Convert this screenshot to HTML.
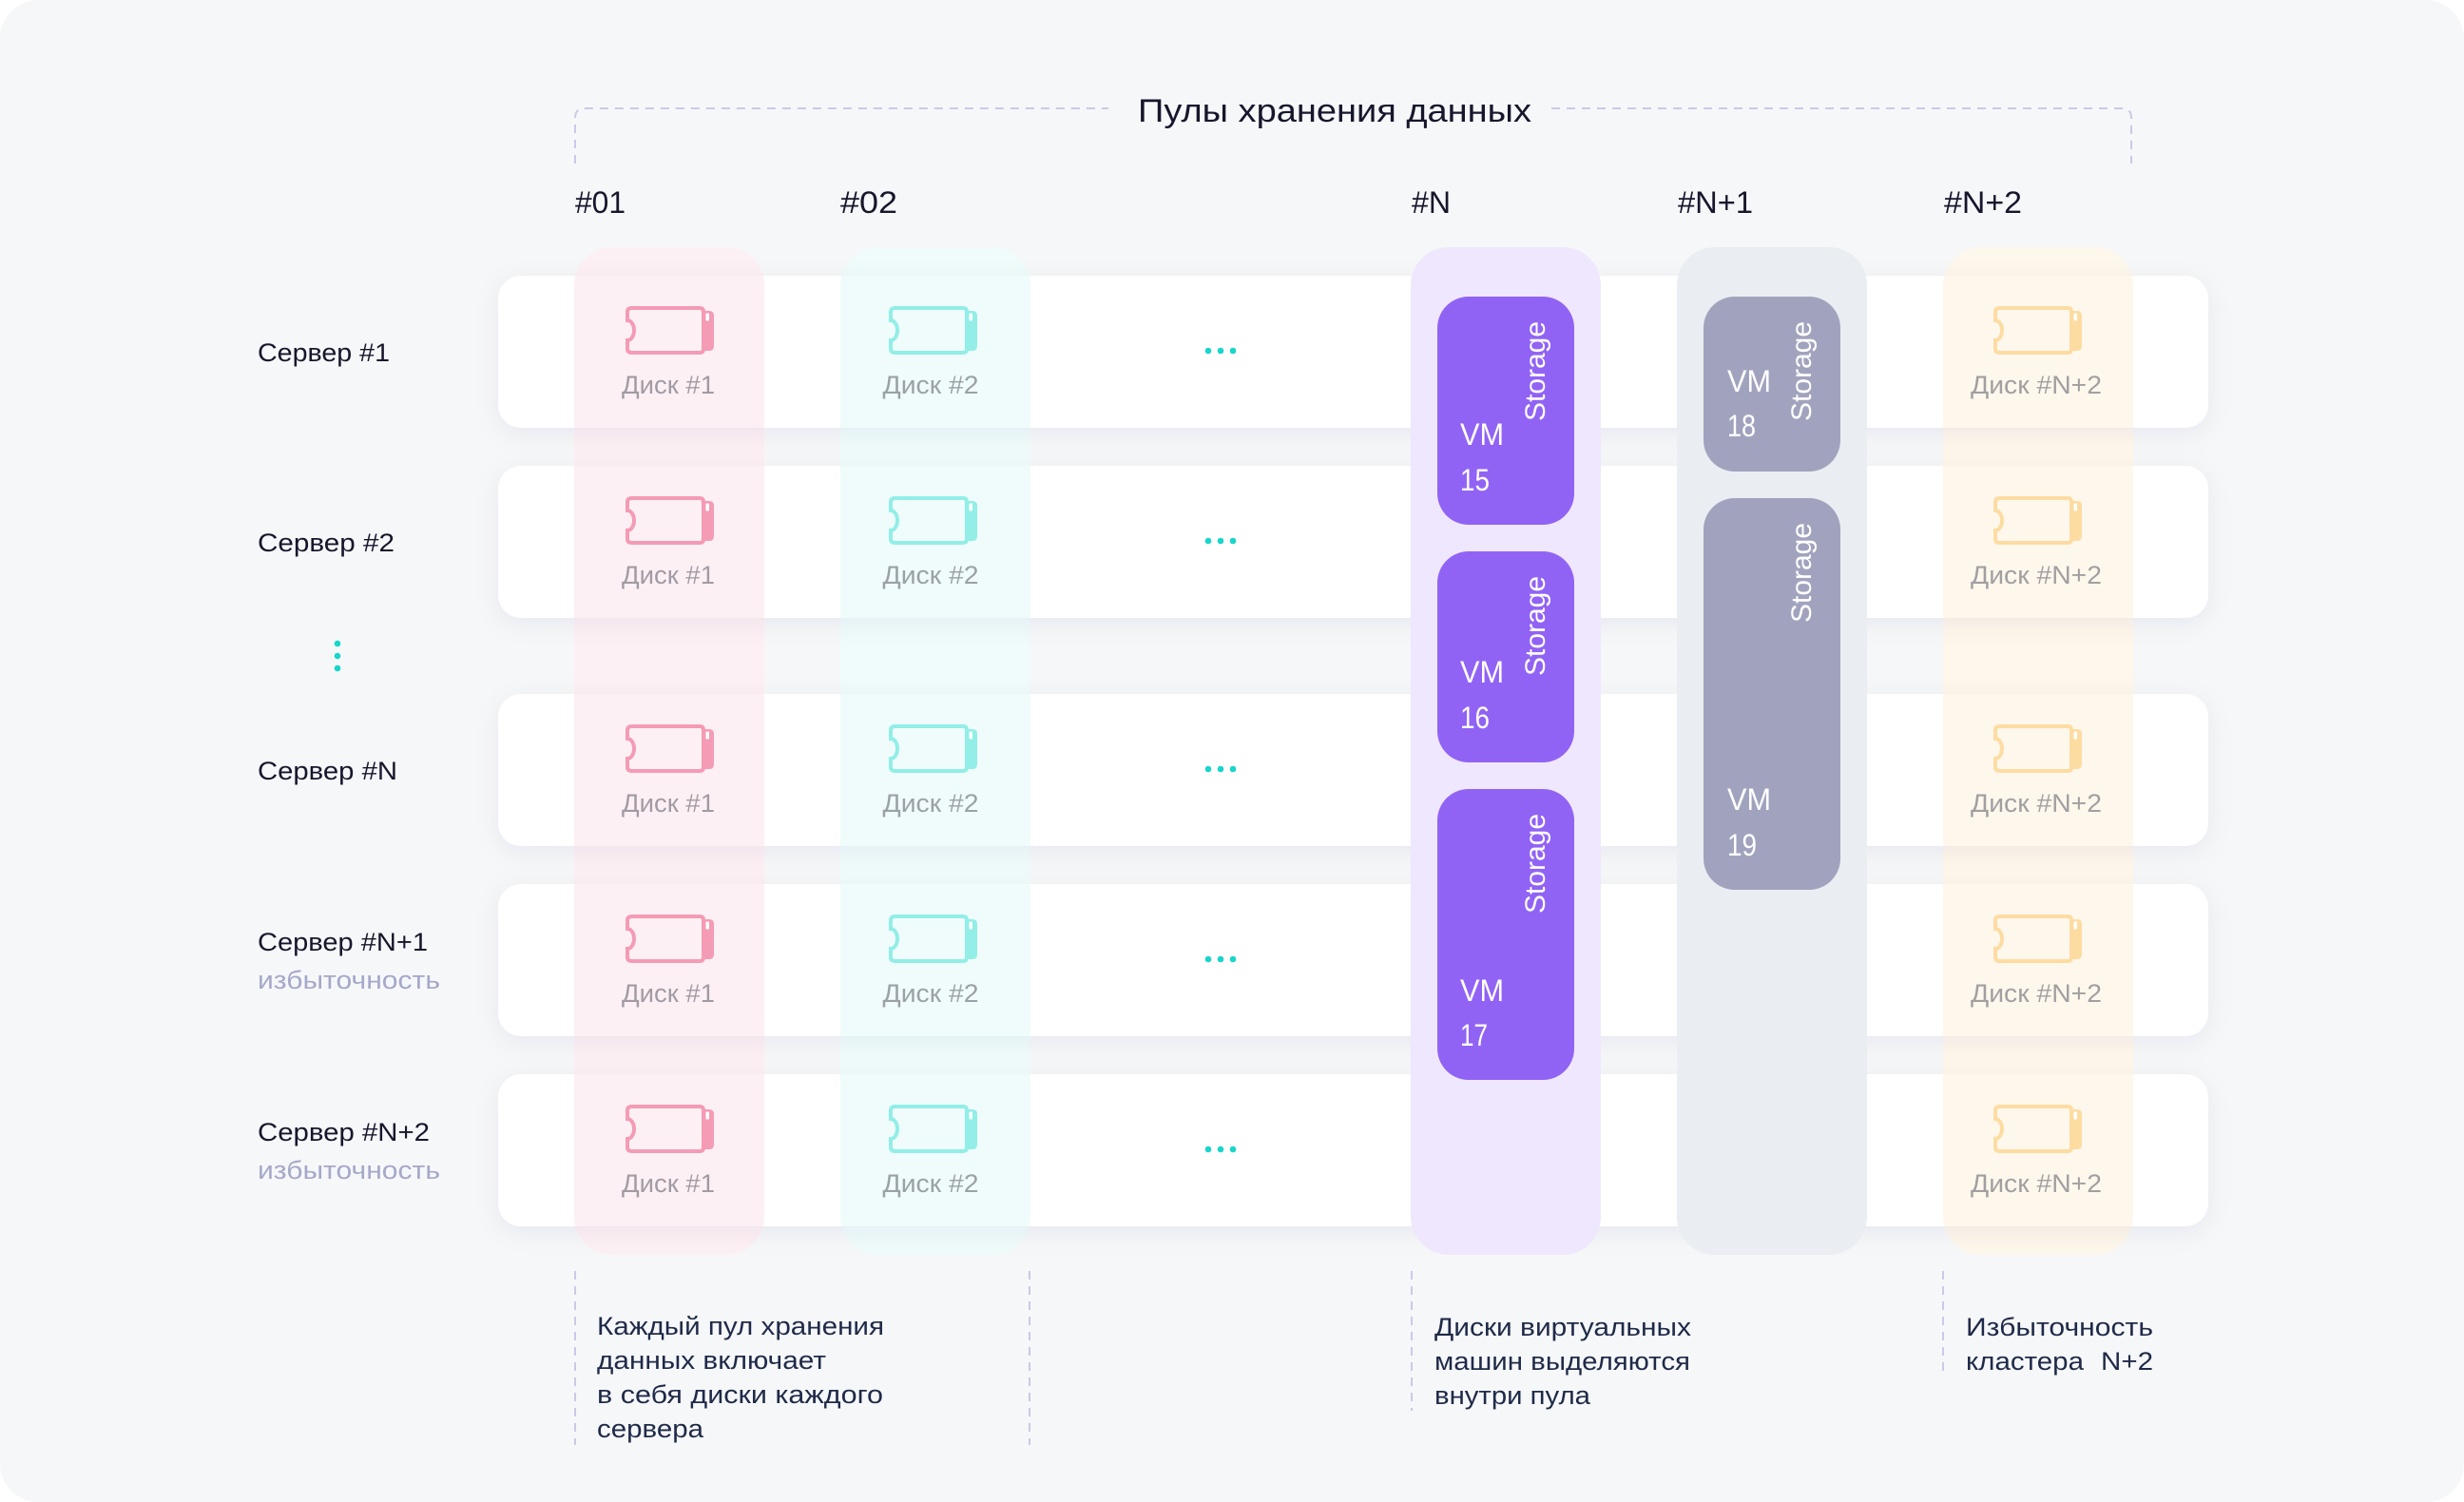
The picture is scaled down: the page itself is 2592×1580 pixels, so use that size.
<!DOCTYPE html>
<html lang="ru">
<head>
<meta charset="utf-8">
<title>Пулы хранения данных</title>
<style>
  html, body { margin: 0; padding: 0; background: #ffffff; }
  body { width: 2592px; height: 1580px; overflow: hidden; }
  svg { display: block; }
  text { font-family: "Liberation Sans", "Noto Sans CJK SC", "DejaVu Sans", sans-serif; }
</style>
</head>
<body>
<svg xmlns="http://www.w3.org/2000/svg" xmlns:xlink="http://www.w3.org/1999/xlink" width="2592" height="1580" viewBox="0 0 2592 1580">
  <defs>
    <filter id="so" x="-5%" y="-40%" width="110%" height="190%">
      <feGaussianBlur in="SourceAlpha" stdDeviation="13" result="b"/>
      <feOffset in="b" dy="6" result="o"/>
      <feFlood flood-color="#1e2850" flood-opacity="0.06"/>
      <feComposite in2="o" operator="in" result="s"/>
      <feComposite in="s" in2="SourceAlpha" operator="out"/>
    </filter>
    <g id="disk">
      <path d="M7 2 H78 Q82 2 82 6 V45 Q82 49 78 49 H7 Q2 49 2 45 V36 A7 10.5 0 0 0 2 15 V6 Q2 2 7 2 Z" fill="none" stroke="currentColor" stroke-width="4"/>
      <path d="M80 5 H88 Q93 5 93 10 V42 Q93 47 88 47 H80 Z" fill="currentColor"/>
      <rect x="84.5" y="7.5" width="3.5" height="8" rx="1" fill="#ffffff"/>
    </g>
    <g id="rows">
      <rect x="524" y="290" width="1799" height="160" rx="24"/>
      <rect x="524" y="490" width="1799" height="160" rx="24"/>
      <rect x="524" y="730" width="1799" height="160" rx="24"/>
      <rect x="524" y="930" width="1799" height="160" rx="24"/>
      <rect x="524" y="1130" width="1799" height="160" rx="24"/>
    </g>
  </defs>

  <!-- background -->
  <rect width="2592" height="1580" fill="#ffffff"/>
  <rect width="2592" height="1580" rx="40" fill="#f6f7f9"/>

  <!-- title bracket -->
  <path d="M605 172 V124 Q605 114 615 114 H1166" fill="none" stroke="#c9cae6" stroke-width="2" stroke-dasharray="9 7"/>
  <path d="M1632 114 H2232 Q2242 114 2242 124 V172" fill="none" stroke="#c9cae6" stroke-width="2" stroke-dasharray="9 7"/>
  <text x="1197" y="128" font-size="34" fill="#16162c" textLength="414" lengthAdjust="spacingAndGlyphs">Пулы хранения данных</text>

  <!-- column headers -->
  <text x="605" y="224" font-size="32" fill="#16162c" textLength="53" lengthAdjust="spacingAndGlyphs">#01</text>
  <text x="884" y="224" font-size="32" fill="#16162c" textLength="60" lengthAdjust="spacingAndGlyphs">#02</text>
  <text x="1485" y="224" font-size="32" fill="#16162c" textLength="41" lengthAdjust="spacingAndGlyphs">#N</text>
  <text x="1765" y="224" font-size="32" fill="#16162c" textLength="79" lengthAdjust="spacingAndGlyphs">#N+1</text>
  <text x="2045" y="224" font-size="32" fill="#16162c" textLength="82" lengthAdjust="spacingAndGlyphs">#N+2</text>

  <!-- server rows (white) -->
  <use xlink:href="#rows" href="#rows" fill="#ffffff"/>

  <!-- pool columns (light) -->
  <rect x="604" y="260" width="200" height="1060" rx="40" fill="#fdf0f4"/>
  <rect x="884" y="260" width="200" height="1060" rx="40" fill="#effcfb"/>
  <rect x="2044" y="260" width="200" height="1060" rx="40" fill="#fef7ec"/>

  <!-- row shadow only (over light columns) -->
  <use xlink:href="#rows" href="#rows" fill="#ffffff" filter="url(#so)"/>

  <!-- pool columns (opaque) -->
  <rect x="1484" y="260" width="200" height="1060" rx="40" fill="#efe7fd"/>
  <rect x="1764" y="260" width="200" height="1060" rx="40" fill="#eaedf2"/>

  <!-- server labels -->
  <g font-size="27" fill="#16162c">
    <text x="271" y="380" textLength="139" lengthAdjust="spacingAndGlyphs">Сервер #1</text>
    <text x="271" y="580" textLength="144" lengthAdjust="spacingAndGlyphs">Сервер #2</text>
    <text x="271" y="820" textLength="147" lengthAdjust="spacingAndGlyphs">Сервер #N</text>
    <text x="271" y="1000" textLength="179" lengthAdjust="spacingAndGlyphs">Сервер #N+1</text>
    <text x="271" y="1200" textLength="181" lengthAdjust="spacingAndGlyphs">Сервер #N+2</text>
  </g>
  <g font-size="27" fill="#a5a8c8">
    <text x="271" y="1040" textLength="192" lengthAdjust="spacingAndGlyphs">избыточность</text>
    <text x="271" y="1240" textLength="192" lengthAdjust="spacingAndGlyphs">избыточность</text>
  </g>

  <!-- vertical dots -->
  <g fill="#19d5ca">
    <circle cx="355" cy="677" r="3.3"/>
    <circle cx="355" cy="690" r="3.3"/>
    <circle cx="355" cy="703" r="3.3"/>
  </g>

  <!-- disk icons -->
  <g style="color:#f49bb5">
    <use xlink:href="#disk" href="#disk" x="658" y="322"/>
    <use xlink:href="#disk" href="#disk" x="658" y="522"/>
    <use xlink:href="#disk" href="#disk" x="658" y="762"/>
    <use xlink:href="#disk" href="#disk" x="658" y="962"/>
    <use xlink:href="#disk" href="#disk" x="658" y="1162"/>
  </g>
  <g style="color:#92eee7">
    <use xlink:href="#disk" href="#disk" x="935" y="322"/>
    <use xlink:href="#disk" href="#disk" x="935" y="522"/>
    <use xlink:href="#disk" href="#disk" x="935" y="762"/>
    <use xlink:href="#disk" href="#disk" x="935" y="962"/>
    <use xlink:href="#disk" href="#disk" x="935" y="1162"/>
  </g>
  <g style="color:#fddca2">
    <use xlink:href="#disk" href="#disk" x="2097" y="322"/>
    <use xlink:href="#disk" href="#disk" x="2097" y="522"/>
    <use xlink:href="#disk" href="#disk" x="2097" y="762"/>
    <use xlink:href="#disk" href="#disk" x="2097" y="962"/>
    <use xlink:href="#disk" href="#disk" x="2097" y="1162"/>
  </g>

  <!-- disk labels -->
  <g font-size="27" fill="#5a5a66" fill-opacity="0.56" text-anchor="middle">
    <text x="703" y="414" textLength="98" lengthAdjust="spacingAndGlyphs">Диск #1</text>
    <text x="703" y="614" textLength="98" lengthAdjust="spacingAndGlyphs">Диск #1</text>
    <text x="703" y="854" textLength="98" lengthAdjust="spacingAndGlyphs">Диск #1</text>
    <text x="703" y="1054" textLength="98" lengthAdjust="spacingAndGlyphs">Диск #1</text>
    <text x="703" y="1254" textLength="98" lengthAdjust="spacingAndGlyphs">Диск #1</text>

    <text x="979" y="414" textLength="101" lengthAdjust="spacingAndGlyphs">Диск #2</text>
    <text x="979" y="614" textLength="101" lengthAdjust="spacingAndGlyphs">Диск #2</text>
    <text x="979" y="854" textLength="101" lengthAdjust="spacingAndGlyphs">Диск #2</text>
    <text x="979" y="1054" textLength="101" lengthAdjust="spacingAndGlyphs">Диск #2</text>
    <text x="979" y="1254" textLength="101" lengthAdjust="spacingAndGlyphs">Диск #2</text>

    <text x="2142" y="414" textLength="138" lengthAdjust="spacingAndGlyphs">Диск #N+2</text>
    <text x="2142" y="614" textLength="138" lengthAdjust="spacingAndGlyphs">Диск #N+2</text>
    <text x="2142" y="854" textLength="138" lengthAdjust="spacingAndGlyphs">Диск #N+2</text>
    <text x="2142" y="1054" textLength="138" lengthAdjust="spacingAndGlyphs">Диск #N+2</text>
    <text x="2142" y="1254" textLength="138" lengthAdjust="spacingAndGlyphs">Диск #N+2</text>
  </g>

  <!-- horizontal ellipsis dots -->
  <g fill="#19d5ca">
    <circle cx="1271" cy="369" r="3.3"/><circle cx="1284" cy="369" r="3.3"/><circle cx="1297" cy="369" r="3.3"/>
    <circle cx="1271" cy="569" r="3.3"/><circle cx="1284" cy="569" r="3.3"/><circle cx="1297" cy="569" r="3.3"/>
    <circle cx="1271" cy="809" r="3.3"/><circle cx="1284" cy="809" r="3.3"/><circle cx="1297" cy="809" r="3.3"/>
    <circle cx="1271" cy="1009" r="3.3"/><circle cx="1284" cy="1009" r="3.3"/><circle cx="1297" cy="1009" r="3.3"/>
    <circle cx="1271" cy="1209" r="3.3"/><circle cx="1284" cy="1209" r="3.3"/><circle cx="1297" cy="1209" r="3.3"/>
  </g>

  <!-- VM boxes (purple) -->
  <rect x="1512" y="312" width="144" height="240" rx="33" fill="#9163f4"/>
  <rect x="1512" y="580" width="144" height="222" rx="33" fill="#9163f4"/>
  <rect x="1512" y="830" width="144" height="306" rx="33" fill="#9163f4"/>
  <!-- VM boxes (gray) -->
  <rect x="1792" y="312" width="144" height="184" rx="33" fill="#a1a3be"/>
  <rect x="1792" y="524" width="144" height="412" rx="33" fill="#a1a3be"/>

  <g font-size="32" fill="#ffffff">
    <text x="1536" y="468" textLength="46" lengthAdjust="spacingAndGlyphs">VM</text>
    <text x="1536" y="516" textLength="31" lengthAdjust="spacingAndGlyphs">15</text>
    <text x="1536" y="718" textLength="46" lengthAdjust="spacingAndGlyphs">VM</text>
    <text x="1536" y="766" textLength="31" lengthAdjust="spacingAndGlyphs">16</text>
    <text x="1536" y="1053" textLength="46" lengthAdjust="spacingAndGlyphs">VM</text>
    <text x="1536" y="1100" textLength="29" lengthAdjust="spacingAndGlyphs">17</text>
    <text x="1817" y="412" textLength="46" lengthAdjust="spacingAndGlyphs">VM</text>
    <text x="1817" y="459" textLength="30" lengthAdjust="spacingAndGlyphs">18</text>
    <text x="1817" y="852" textLength="46" lengthAdjust="spacingAndGlyphs">VM</text>
    <text x="1817" y="900" textLength="31" lengthAdjust="spacingAndGlyphs">19</text>
  </g>
  <g font-size="30" fill="#ffffff">
    <text transform="translate(1625 443) rotate(-90)" textLength="105" lengthAdjust="spacingAndGlyphs">Storage</text>
    <text transform="translate(1625 711) rotate(-90)" textLength="105" lengthAdjust="spacingAndGlyphs">Storage</text>
    <text transform="translate(1625 961) rotate(-90)" textLength="105" lengthAdjust="spacingAndGlyphs">Storage</text>
    <text transform="translate(1905 443) rotate(-90)" textLength="105" lengthAdjust="spacingAndGlyphs">Storage</text>
    <text transform="translate(1905 655) rotate(-90)" textLength="105" lengthAdjust="spacingAndGlyphs">Storage</text>
  </g>

  <!-- bottom notes -->
  <g fill="none" stroke="#c9cae6" stroke-width="2" stroke-dasharray="9 7">
    <line x1="605" y1="1337" x2="605" y2="1520"/>
    <line x1="1083" y1="1337" x2="1083" y2="1520"/>
    <line x1="1485" y1="1337" x2="1485" y2="1484"/>
    <line x1="2044" y1="1337" x2="2044" y2="1446"/>
  </g>
  <g font-size="27" fill="#1f2a48">
    <text x="628" y="1404" textLength="302" lengthAdjust="spacingAndGlyphs">Каждый пул хранения</text>
    <text x="628" y="1440" textLength="241" lengthAdjust="spacingAndGlyphs">данных включает</text>
    <text x="628" y="1476" textLength="301" lengthAdjust="spacingAndGlyphs">в себя диски каждого</text>
    <text x="628" y="1512" textLength="112" lengthAdjust="spacingAndGlyphs">сервера</text>

    <text x="1509" y="1405" textLength="270" lengthAdjust="spacingAndGlyphs">Диски виртуальных</text>
    <text x="1509" y="1441" textLength="269" lengthAdjust="spacingAndGlyphs">машин выделяются</text>
    <text x="1509" y="1477" textLength="164" lengthAdjust="spacingAndGlyphs">внутри пула</text>

    <text x="2068" y="1405" textLength="197" lengthAdjust="spacingAndGlyphs">Избыточность</text>
    <text x="2068" y="1441" textLength="124" lengthAdjust="spacingAndGlyphs">кластера</text>
    <text x="2210" y="1441" textLength="55" lengthAdjust="spacingAndGlyphs">N+2</text>
  </g>
</svg>
</body>
</html>
